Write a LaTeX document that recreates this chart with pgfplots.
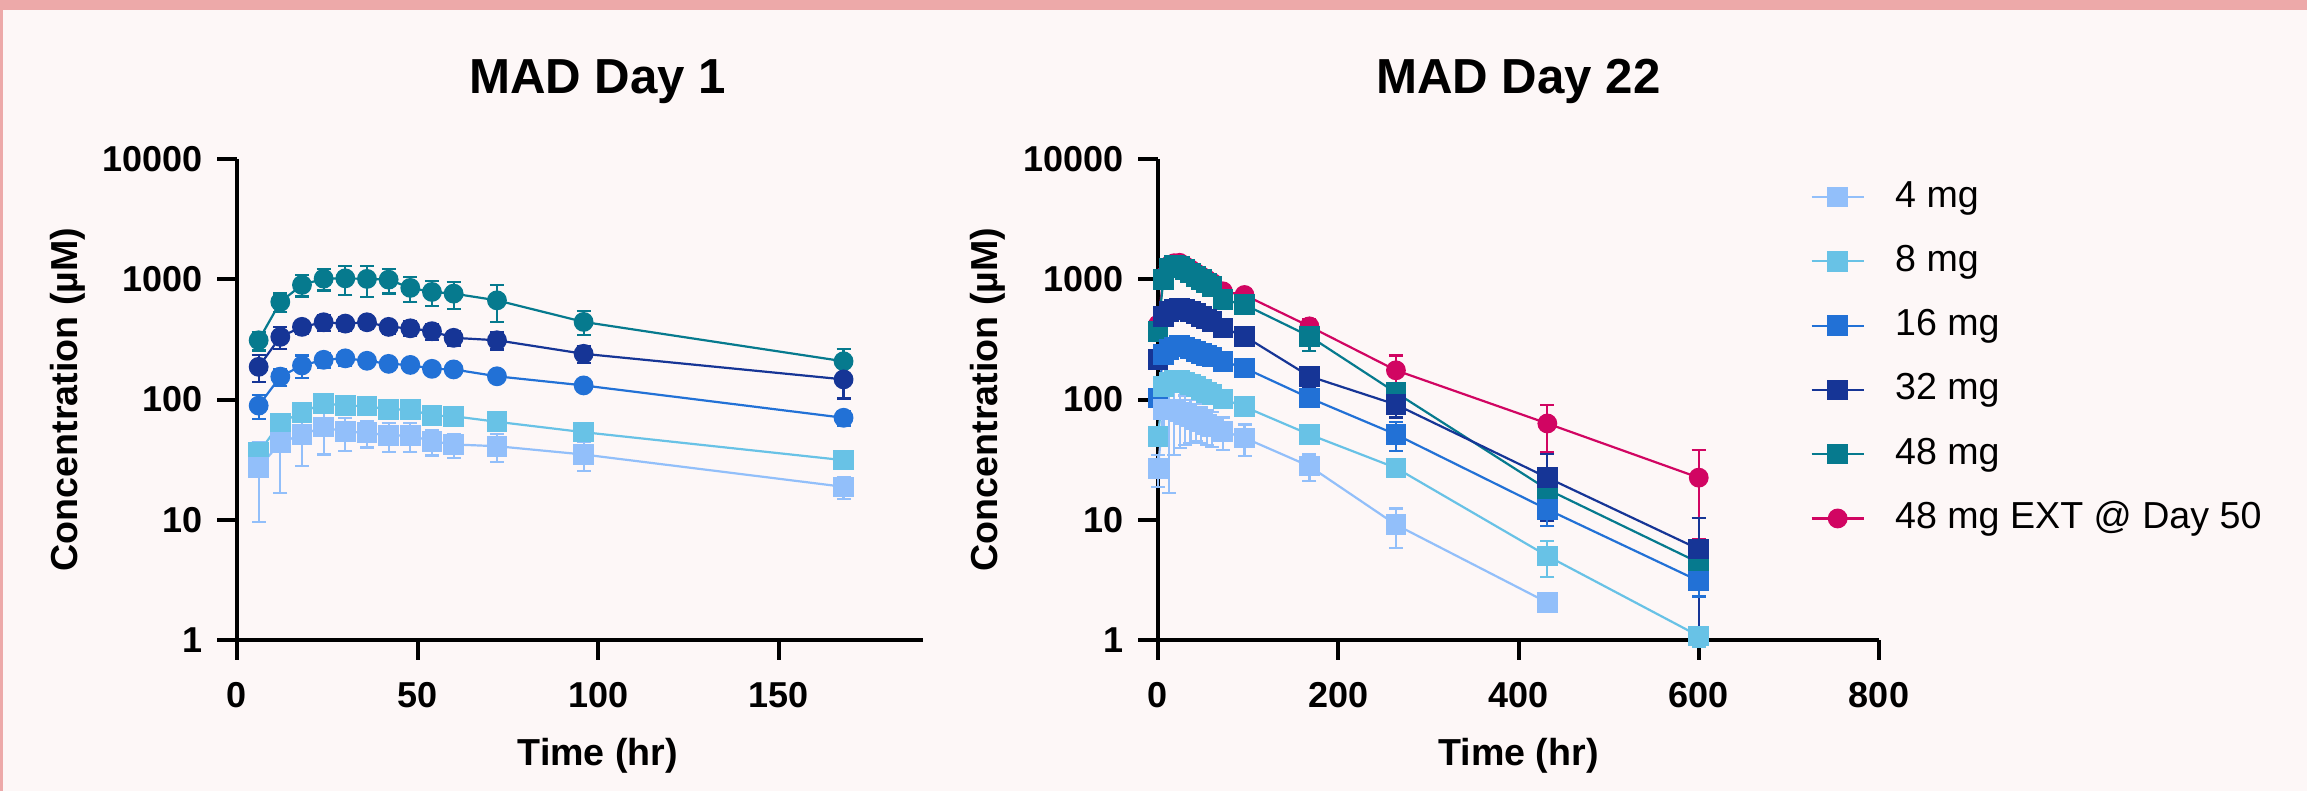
\documentclass[border=0pt]{standalone}
\usepackage{fontspec}
\setmainfont{Liberation Sans}
\usepackage{pgfplots}
\pgfplotsset{compat=1.18}
\definecolor{bg}{HTML}{FDF7F7}
\definecolor{band}{HTML}{EDA9A9}
\definecolor{cA}{HTML}{92BFFA}
\definecolor{cB}{HTML}{68C2E6}
\definecolor{cC}{HTML}{2271D6}
\definecolor{cD}{HTML}{163596}
\definecolor{cE}{HTML}{067A8E}
\definecolor{cF}{HTML}{D10562}
\pgfplotsset{
  ser/.style={color=#1, line width=0.55pt, mark options={solid, fill=#1, draw=#1},
    error bars/y dir=both, error bars/y explicit,
    error bars/error bar style={line width=0.55pt, color=#1},
    error bars/error mark options={rotate=90, mark size=1.75pt, line width=0.55pt, color=#1}},
}
\begin{document}
\begin{tikzpicture}
\useasboundingbox (0,0) rectangle (576.75pt,-197.75pt);
\fill[bg] (0,0) rectangle (576.75pt,-197.75pt);
\fill[band] (0,0) rectangle (576.75pt,-2.5pt);
\fill[band] (0,0) rectangle (0.75pt,-197.75pt);

% ---------------- MAD Day 1 ----------------
\begin{semilogyaxis}[scale only axis, height=120.25pt, width=171.5pt,
  at={(59.25pt,-160pt)}, anchor=south west,
  ymin=1, ymax=10000,
  ytick={1,10,100,1000,10000}, yticklabels={1,10,100,1000,10000},
  yminorticks=false,
  axis x line*=bottom, axis y line*=left,
  axis line style={line width=1pt},
  tick align=outside, major tick length=5pt,
  major tick style={line width=1pt, black},
  tick label style={font=\bfseries\fontsize{9}{10}\selectfont},
  xticklabel style={yshift=-2pt},
  clip=false,
  xmin=0, xmax=190, xtick={0,50,100,150}, xticklabels={0,50,100,150},
  title={MAD Day 1},
  ylabel={Concentration (µM)}, xlabel={Time (hr)},
  every axis title/.style={at={(0.526,1)}, anchor=base, yshift=16.4pt, font=\bfseries\fontsize{12.3}{14}\selectfont},
  every axis y label/.style={at={(axis description cs:-0.2332,0.5)}, rotate=90, anchor=base, font=\bfseries\fontsize{9.4}{11}\selectfont},
  every axis x label/.style={at={(axis description cs:0.526,-0.2599)}, anchor=base, font=\bfseries\fontsize{9.4}{11}\selectfont},
]
% 48 mg
\addplot[mark=*, mark size=2.2pt, ser=cE] table[x index=0,y index=1,y error index=2,row sep=\\]{
6 311 55\\ 12 648 115\\ 18 898 180\\ 24 1012 205\\ 30 1018 280\\ 36 1007 290\\ 42 993 230\\ 48 848 200\\ 54 785 185\\ 60 760 195\\ 72 668 225\\ 96 442 100\\ 168 208 56\\
};
% 32 mg
\addplot[mark=*, mark size=2.2pt, ser=cD] table[x index=0,y index=1,y error index=2,row sep=\\]{
6 187 48\\ 12 332 70\\ 18 402 50\\ 24 439 65\\ 30 428 55\\ 36 439 50\\ 42 402 50\\ 48 391 55\\ 54 370 55\\ 60 326 45\\ 72 311 50\\ 96 240 40\\ 168 147 45\\
};
% 16 mg
\addplot[mark=*, mark size=2.2pt, ser=cC] table[x index=0,y index=1,y error index=2,row sep=\\]{
6 89 20\\ 12 155 25\\ 18 192 40\\ 24 214 30\\ 30 220 28\\ 36 210 25\\ 42 198 22\\ 48 194 20\\ 54 180 18\\ 60 178 15\\ 72 156 15\\ 96 131 14\\ 168 70.5 10\\
};
% 8 mg
\addplot[mark=square*, mark size=2.3pt, ser=cB] table[x index=0,y index=1,y error index=2,row sep=\\]{
6 36.1 8\\ 12 64 12\\ 18 78.4 10\\ 24 92.7 12\\ 30 89.1 10\\ 36 88 10\\ 42 82.6 9\\ 48 82.6 9\\ 54 73.6 8\\ 60 72.6 8\\ 72 65.3 8\\ 96 53.5 6\\ 168 31.3 5\\
};
% 4 mg
\addplot[mark=square*, mark size=2.3pt, ser=cA] table[x index=0,y index=1,y error index=2,row sep=\\]{
6 27.1 17.5\\ 12 43.7 27\\ 18 51.2 23\\ 24 58.9 24\\ 30 53.9 16.7\\ 36 52.9 13\\ 42 50.2 13.7\\ 48 50.2 13.7\\ 54 45 10.7\\ 60 42.3 9.5\\ 72 40.9 10.5\\ 96 34.9 9.5\\ 168 18.8 4\\
};
\end{semilogyaxis}

% ---------------- MAD Day 22 ----------------
\begin{semilogyaxis}[scale only axis, height=120.25pt, width=180.25pt,
  at={(289.5pt,-160pt)}, anchor=south west,
  ymin=1, ymax=10000,
  ytick={1,10,100,1000,10000}, yticklabels={1,10,100,1000,10000},
  yminorticks=false,
  axis x line*=bottom, axis y line*=left,
  axis line style={line width=1pt},
  tick align=outside, major tick length=5pt,
  major tick style={line width=1pt, black},
  tick label style={font=\bfseries\fontsize{9}{10}\selectfont},
  xticklabel style={yshift=-2pt},
  clip=false,
  xmin=0, xmax=800, xtick={0,200,400,600,800}, xticklabels={0,200,400,600,800},
  title={MAD Day 22},
  ylabel={Concentration (µM)}, xlabel={Time (hr)},
  every axis title/.style={at={(0.5,1)}, anchor=base, yshift=16.4pt, font=\bfseries\fontsize{12.3}{14}\selectfont},
  every axis y label/.style={at={(axis description cs:-0.2233,0.5)}, rotate=90, anchor=base, font=\bfseries\fontsize{9.4}{11}\selectfont},
  every axis x label/.style={at={(axis description cs:0.5,-0.2599)}, anchor=base, font=\bfseries\fontsize{9.4}{11}\selectfont},
  legend image code/.code={\draw[mark repeat=2,mark phase=2] plot coordinates {(0pt,0pt) (6.5pt,0pt) (13pt,0pt)};},
  reverse legend, legend cell align=left,
  legend style={at={(0.904,0.960)}, anchor=north west, draw=none, fill=none,
    inner sep=0pt, row sep=7.07pt,
    font=\fontsize{9.4}{11}\selectfont,
    nodes={inner sep=0pt, text height=7pt, text depth=2pt},
    /tikz/every odd column/.append style={column sep=7.6pt}},
]
% 48 mg EXT
\addplot[mark=*, mark size=2.2pt, ser=cF] table[x index=0,y index=1,y error index=2,row sep=\\]{
0 420 60\\ 6 1050 150\\ 12 1300 160\\ 18 1360 170\\ 24 1370 160\\ 30 1290 150\\ 36 1210 140\\ 42 1130 130\\ 48 1060 120\\ 54 1000 110\\ 60 940 100\\ 72 794 90\\ 96 740 90\\ 168 406 60\\ 264 175 57\\ 432 63.2 27\\ 600 22.4 15.5\\
};
\addlegendentry{48 mg EXT @ Day 50}
% 48 mg
\addplot[mark=square*, mark size=2.3pt, ser=cE] table[x index=0,y index=1,y error index=2,row sep=\\]{
0 369 60\\ 6 1000 150\\ 12 1242 150\\ 18 1297 160\\ 24 1282 150\\ 30 1203 140\\ 36 1130 130\\ 42 1059 120\\ 48 993 110\\ 54 933 100\\ 60 874 100\\ 72 678 90\\ 96 615 80\\ 168 336 84\\ 264 114 24\\ 432 17.9 5\\ 600 4.4 1.5\\
};
\addlegendentry{48 mg}
% 32 mg
\addplot[mark=square*, mark size=2.3pt, ser=cD] table[x index=0,y index=1,y error index=2,row sep=\\]{
0 215 30\\ 6 492 60\\ 12 542 60\\ 18 560 55\\ 24 578 55\\ 30 567 50\\ 36 542 50\\ 42 518 45\\ 48 492 45\\ 54 469 40\\ 60 448 40\\ 72 394 35\\ 96 336 40\\ 168 156 30\\ 264 90.8 20\\ 432 22.4 12.6\\ 600 5.7 4.6\\
};
\addlegendentry{32 mg}
% 16 mg
\addplot[mark=square*, mark size=2.3pt, ser=cC] table[x index=0,y index=1,y error index=2,row sep=\\]{
0 103 15\\ 6 237 30\\ 12 260 30\\ 18 274 30\\ 24 281 28\\ 30 274 25\\ 36 264 25\\ 42 252 22\\ 48 241 22\\ 54 232 20\\ 60 226 20\\ 72 208 18\\ 96 183 20\\ 168 103 15\\ 264 51.2 14\\ 432 12.2 3.3\\ 600 3.1 0.8\\
};
\addlegendentry{16 mg}
% 8 mg
\addplot[mark=square*, mark size=2.3pt, ser=cB] table[x index=0,y index=1,y error index=2,row sep=\\]{
0 49.5 6\\ 6 129 20\\ 12 138 15\\ 18 145 15\\ 24 145 14\\ 30 139 13\\ 36 133 12\\ 42 128 12\\ 48 121 11\\ 54 115 10\\ 60 110 10\\ 72 101 9\\ 96 87 10\\ 168 51.2 8\\ 264 27 4\\ 432 5.0 1.65\\ 600 1.08 0.2\\
};
\addlegendentry{8 mg}
% 4 mg
\addplot[mark=square*, mark size=2.3pt, ser=cA] table[x index=0,y index=1,y error index=2,row sep=\\]{
0 26.7 8\\ 6 82.6 40\\ 12 83.7 67\\ 18 82.6 48\\ 24 78.5 39\\ 30 75 33\\ 36 71.8 28\\ 42 68.2 23\\ 48 64.8 21\\ 54 62 20\\ 60 59.3 19\\ 72 54.5 16.5\\ 96 48 14\\ 168 27.9 7\\ 264 9.1 3.3\\ 432 2.05 0.3\\
};
\addlegendentry{4 mg}
\end{semilogyaxis}
\end{tikzpicture}
\end{document}
